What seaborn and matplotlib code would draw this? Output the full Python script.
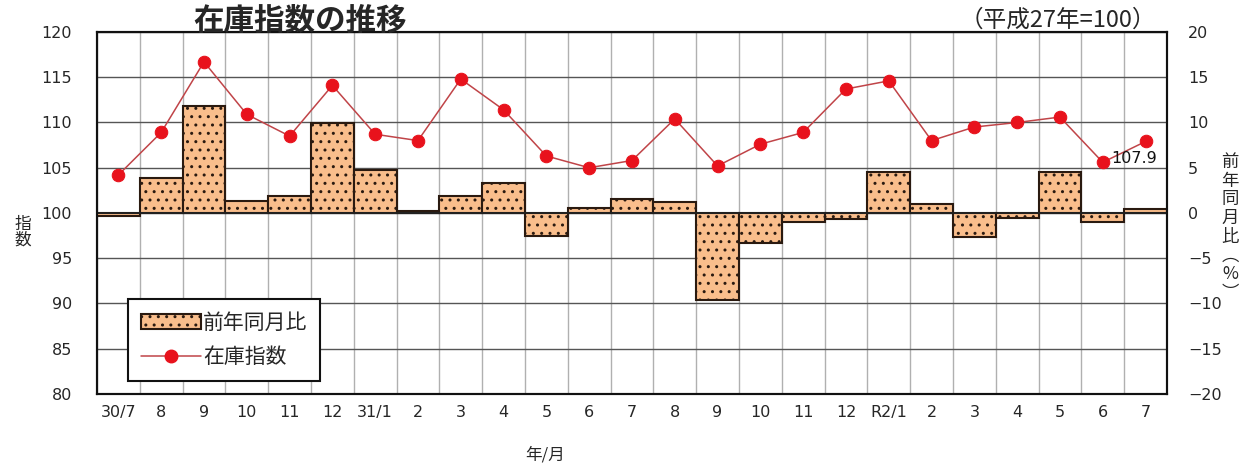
import numpy as np
import pandas as pd
import matplotlib
matplotlib.use('Agg')
import matplotlib.pyplot as plt
import seaborn as sns
from matplotlib.patches import Patch
from matplotlib.lines import Line2D

# --- datos ---
meses = ['30/7', '8', '9', '10', '11', '12', '31/1', '2', '3', '4', '5', '6', '7',
         '8', '9', '10', '11', '12', 'R2/1', '2', '3', '4', '5', '6', '7']
indice = [104.2, 108.9, 116.7, 110.9, 108.5, 114.1, 108.7, 108.0, 114.8, 111.4, 106.3,
          105.0, 105.8, 110.4, 105.2, 107.6, 108.9, 113.7, 114.6, 108.0, 109.5, 110.0,
          110.6, 105.6, 107.9]
variacion = [-0.3, 3.9, 11.8, 1.3, 1.9, 9.9, 4.7, 0.2, 1.9, 3.3, -2.5, 0.6, 1.5,
             1.2, -9.6, -3.3, -1.0, -0.7, 4.5, 1.0, -2.7, -0.5, 4.5, -1.0, 0.4]

df = pd.DataFrame({'pos': np.arange(len(meses)), 'indice': indice, 'variacion': variacion})

sns.set_theme(style='white')
plt.rcParams['font.family'] = ['Noto Sans CJK JP', 'DejaVu Sans']
plt.rcParams['hatch.linewidth'] = 1.0
plt.rcParams['axes.unicode_minus'] = True

fig = plt.figure(figsize=(12.45, 4.74), dpi=100)
ax = fig.add_axes([0.0779, 0.1688, 0.8594, 0.7637])
ax2 = ax.twinx()

color_barra = '#F9BE8C'
color_linea = '#C04448'
color_punto = '#E8121C'
num_font = ['DejaVu Sans']

# barras (eje derecho, %)
sns.barplot(data=df, x='pos', y='variacion', ax=ax, width=1.0, color=color_barra,
            edgecolor='#2a1a10', linewidth=1.5, hatch='..', saturation=1)
ax.set_ylim(-20, 20)
ax.set_yticks(np.arange(-20, 21, 5))
ax.yaxis.tick_right()
ax.set_xlim(-0.5, len(meses) - 0.5)

# línea del índice (eje izquierdo)
sns.lineplot(data=df, x='pos', y='indice', ax=ax2, color=color_linea, linewidth=1.1,
             marker='o', markersize=9, markerfacecolor=color_punto,
             markeredgecolor=color_punto)
ax2.set_ylim(80, 120)
ax2.set_yticks(np.arange(80, 121, 5))
ax2.yaxis.tick_left()
ax2.set_xlim(-0.5, len(meses) - 0.5)

# rejilla
ax.set_xticks(np.arange(len(meses)))
ax.set_xticklabels(meses)
ax.set_xticks(np.arange(len(meses) + 1) - 0.5, minor=True)
ax.grid(True, which='minor', axis='x', color='#b0b0b0', linewidth=1)
ax.grid(True, which='major', axis='y', color='#555555', linewidth=1)
ax.set_axisbelow(True)
ax.tick_params(axis='x', which='major', length=0, pad=8)
ax.tick_params(axis='x', which='minor', direction='in', length=5, width=1.2, color='#222222')
ax.tick_params(axis='y', length=0, pad=15)
ax2.tick_params(axis='y', length=0, pad=18)
for lab in ax.get_xticklabels() + ax.get_yticklabels() + ax2.get_yticklabels():
    lab.set_family(num_font)
    lab.set_fontsize(11.5)
ax.axhline(0, color='#222222', linewidth=1.3, zorder=1)

for a in (ax, ax2):
    a.set_xlabel('')
    a.set_ylabel('')
    for s in a.spines.values():
        s.set_color('#111111')
        s.set_linewidth(1.5)
ax2.grid(False)

# etiqueta del último valor
ax2.annotate(f'{indice[-1]:.1f}', xy=(df['pos'].iloc[-1], indice[-1]),
             xytext=(-8, -12), textcoords='offset points', ha='center', va='center',
             fontsize=11.5, color='#111111', family=num_font)

# leyenda
handles = [Patch(facecolor=color_barra, edgecolor='#2a1a10', hatch='..', linewidth=1.5),
           Line2D([], [], color=color_linea, linewidth=1.1, marker='o', markersize=9,
                  markerfacecolor=color_punto, markeredgecolor=color_punto)]
leg = ax2.legend(handles, ['前年同月比', '在庫指数'], loc='lower left',
                 bbox_to_anchor=(0.029, 0.036), borderaxespad=0, fontsize=15,
                 frameon=True, fancybox=False, handlelength=2.9, handletextpad=0.1,
                 labelspacing=0.6, borderpad=0.6, edgecolor='#111111', framealpha=1)
leg.get_frame().set_linewidth(1.5)

# textos
fig.text(0.241, 0.957, '在庫指数の推移', fontsize=22, fontweight='bold',
         ha='center', va='center')
fig.text(0.850, 0.958, '（平成27年=100）', fontsize=17, ha='center', va='center')
fig.text(0.018, 0.51, '指\n数', fontsize=12, ha='center', va='center', linespacing=0.95)
fig.text(0.988, 0.52, '前\n年\n同\n月\n比\n︵\n%\n︶', fontsize=12.5, ha='center',
         va='center', linespacing=1.05)
fig.text(0.438, 0.04, '年/月', fontsize=12, ha='center', va='center')

plt.savefig('out.png', dpi=100)
